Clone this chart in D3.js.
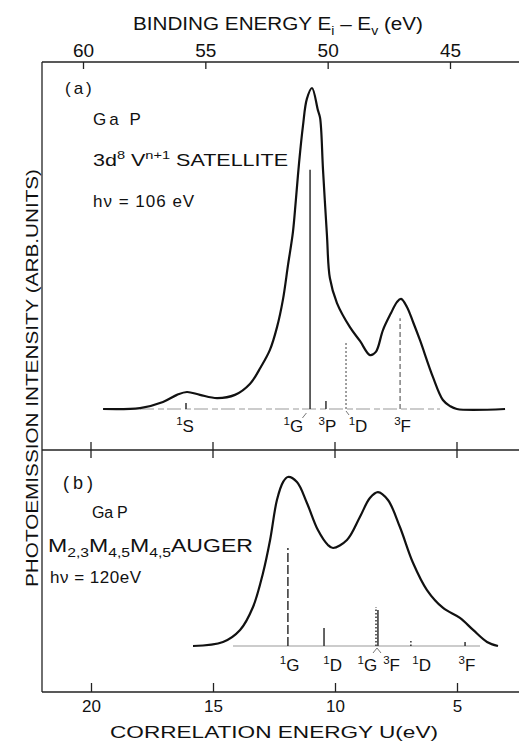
<!DOCTYPE html>
<html>
<head>
<meta charset="utf-8">
<script src="https://cdn.jsdelivr.net/npm/d3@7"></script>
<style>
  body { margin: 0; background: #fff; }
  text { font-family: "Liberation Sans", "DejaVu Sans", sans-serif; fill: #111; }
</style>
</head>
<body>
<div class="chart"></div>
<script>
// Page size
var svgWidth = 519;
var svgHeight = 742;

// (a) 3d8 V(n+1) satellite, binding energy (eV) vs intensity (arb.)
var satBE  = [59.18, 57.67, 56.73, 56.16, 55.75, 55.22, 54.52, 53.79, 53.18, 52.73, 52.36, 52.07,
              51.83, 51.62, 51.42, 51.30, 51.17, 51.01, 50.85, 50.64, 50.40, 50.31,
              50.19, 50.03, 49.91, 49.62, 49.09, 48.68, 48.27, 48.03, 47.74, 47.41, 47.17, 47.00,
              46.76, 46.51, 46.23, 45.70, 45.29, 45.00, 44.72, 42.75];
var satInt = [0, 0.3, 2.2, 4.4, 5.3, 4.4, 3.4, 4.4, 7.8, 13.1, 18.4, 25.5,
              34.0, 44.9, 55.1, 65.1, 76.6, 88.2, 96.6, 100, 93.1, 90.7,
              74.5, 54.2, 40.8, 33.0, 25.5, 21.2, 16.8, 17.8, 24.6, 29.9, 33.3, 34.3,
              31.8, 27.1, 21.5, 10.0, 2.8, 0.9, 0, 0];

// (a) multiplet lines
var satLineBE  = [55.79, 50.72, 50.07, 49.25, 47.04];
var satLineInt = [1.9, 74.5, 2.5, 20.9, 28.3];
var satLineDash = ["none", "none", "none", "2,2", "5,3"];
var satMult  = ["1", "1", "3", "1", "3"];
var satTerm  = ["S", "G", "P", "D", "F"];
var satLabelBE = [55.83, 51.40, 50.01, 48.76, 46.94];

// (b) M2,3M4,5M4,5 Auger, correlation energy U (eV) vs intensity (arb.)
var augU   = [15.82, 14.59, 13.89, 13.36, 12.95, 12.66, 12.38, 12.13, 11.93, 11.56, 11.15, 10.70,
              10.29, 10.08, 9.51, 8.98, 8.57, 8.24, 7.83, 7.34, 6.80, 6.23, 5.57, 4.88, 4.34, 3.77, 3.32];
var augInt = [0, 2.4, 9.5, 23.1, 43.2, 62.7, 86.4, 97.0, 100, 97.0, 84.6, 68.6,
              59.8, 58.0, 62.7, 76.3, 87.6, 91.1, 86.4, 70.4, 49.1, 33.1, 22.5, 16.6, 9.5, 2.4, 0];

// (b) multiplet lines
var augLineU   = [11.93, 10.45, 8.32, 8.24, 6.89, 4.67];
var augLineInt = [58.0, 10.7, 23.1, 21.3, 3.6, 2.4];
var augLineDash = ["9,3", "none", "1.5,2", "none", "1.5,2", "none"];
var augMult  = ["1", "1", "1", "3", "1", "3"];
var augTerm  = ["G", "D", "G", "F", "D", "F"];
var augLabelU = [11.86, 10.10, 8.67, 7.68, 6.45, 4.59];

// Axis ticks
var beTicks = [60, 55, 50, 45];
var uTicks  = [20, 15, 10, 5];

var svg = d3.select(".chart").append("svg")
  .attr("width", svgWidth)
  .attr("height", svgHeight);

// scales
var xBE = d3.scaleLinear().domain([60, 45]).range([83, 450]);
var xU  = d3.scaleLinear().domain([20, 5]).range([91, 457]);
var yA  = d3.scaleLinear().domain([0, 100]).range([409, 88]);
var yB  = d3.scaleLinear().domain([0, 100]).range([646, 477]);

var frameLeft = 42, frameTop = 62, frameMid = 450, frameBottom = 692;

// helper: text with super/subscripts, parts = [[string, shift]]
function richText(g, x, y, parts, size, len, anchor) {
  var t = g.append("text").attr("x", x).attr("y", y)
    .attr("font-size", size)
    .attr("text-anchor", anchor || "start");
  var cur = 0;
  parts.forEach(function(p) {
    var off = p[1] === 1 ? -size * 0.42 : (p[1] === -1 ? size * 0.3 : 0);
    t.append("tspan")
      .attr("dy", off - cur)
      .attr("font-size", p[1] ? size * 0.68 : size)
      .text(p[0]);
    cur = off;
  });
  if (len) t.attr("textLength", len).attr("lengthAdjust", "spacingAndGlyphs");
  return t;
}

// plain text with letter spacing
function plainText(g, x, y, str, size, spacing) {
  return g.append("text").attr("x", x).attr("y", y)
    .attr("font-size", size)
    .style("letter-spacing", (spacing || 0) + "px")
    .text(str);
}

// frame lines
var frame = svg.append("g").attr("stroke", "#222").attr("stroke-width", 1.3);
frame.append("line").attr("x1", frameLeft).attr("x2", frameLeft).attr("y1", frameTop).attr("y2", frameBottom);
[frameTop, frameMid, frameBottom].forEach(function(yy) {
  frame.append("line").attr("x1", frameLeft).attr("x2", svgWidth).attr("y1", yy).attr("y2", yy);
});

// top axis (binding energy), ticks pointing in
var topAxis = d3.axisTop(xBE).tickValues(beTicks).tickSizeInner(-7).tickSizeOuter(0).tickPadding(5);
var gTop = svg.append("g").attr("transform", "translate(0," + frameTop + ")").call(topAxis);
gTop.select(".domain").remove();
gTop.selectAll("line").attr("stroke", "#222").attr("stroke-width", 1.3);
gTop.selectAll("text").attr("font-size", 19).attr("font-family", null).attr("fill", "#111");

// bottom axis (correlation energy)
var bottomAxis = d3.axisBottom(xU).tickValues(uTicks).tickSizeInner(-9).tickSizeOuter(0).tickPadding(8);
var gBot = svg.append("g").attr("transform", "translate(0," + frameBottom + ")").call(bottomAxis);
gBot.select(".domain").remove();
gBot.selectAll("line").attr("stroke", "#222").attr("stroke-width", 1.3);
gBot.selectAll("text").attr("font-size", 17).attr("font-family", null).attr("fill", "#111");

// middle divider ticks crossing the line
svg.append("g").selectAll("line").data(uTicks).enter().append("line")
  .attr("x1", function(d) { return xU(d); })
  .attr("x2", function(d) { return xU(d); })
  .attr("y1", frameMid - 8).attr("y2", frameMid + 8)
  .attr("stroke", "#222").attr("stroke-width", 1.3);

// axis titles
richText(svg, 133, 30, [["BINDING ENERGY  E", 0], ["i", -1], [" \u2013 E", 0], ["v", -1], [" (eV)", 0]], 18, 290);
svg.append("text").attr("x", 110).attr("y", 738).attr("font-size", 17)
  .attr("textLength", 328).attr("lengthAdjust", "spacingAndGlyphs")
  .text("CORRELATION ENERGY U(eV)");
svg.append("text").attr("transform", "translate(38,378) rotate(-90)")
  .attr("text-anchor", "middle").attr("font-size", 17)
  .attr("textLength", 418).attr("lengthAdjust", "spacingAndGlyphs")
  .text("PHOTOEMISSION INTENSITY (ARB.UNITS)");

var lineGen = d3.line().curve(d3.curveCatmullRom.alpha(0.5));

// ---- panel (a)
var pa = svg.append("g");
pa.append("line").attr("x1", 140).attr("x2", 440).attr("y1", yA(0)).attr("y2", yA(0))
  .attr("stroke", "#999").attr("stroke-width", 1).attr("stroke-dasharray", "14,4,6,3");
pa.selectAll(".stick").data(satLineBE).enter().append("line")
  .attr("x1", function(d) { return xBE(d); })
  .attr("x2", function(d) { return xBE(d); })
  .attr("y1", yA(0))
  .attr("y2", function(d, i) { return yA(satLineInt[i]); })
  .attr("stroke", function(d, i) { return satLineDash[i] === "none" ? "#222" : "#777"; })
  .attr("stroke-width", 1.4)
  .attr("stroke-dasharray", function(d, i) { return satLineDash[i]; });
pa.append("path")
  .attr("d", lineGen(satBE.map(function(d, i) { return [xBE(d), yA(satInt[i])]; })))
  .attr("fill", "none").attr("stroke", "#111").attr("stroke-width", 2.2);
satLabelBE.forEach(function(d, i) {
  richText(pa, xBE(d), 432, [[satMult[i], 1], [satTerm[i], 0]], 17, null, "middle");
});
// small leaders from labels to lines
pa.append("line").attr("x1", xBE(satLabelBE[1]) + 9).attr("y1", 418)
  .attr("x2", xBE(satLabelBE[1]) + 13).attr("y2", 413).attr("stroke", "#555").attr("stroke-width", 0.8);
pa.append("line").attr("x1", xBE(satLineBE[3])).attr("y1", 411)
  .attr("x2", xBE(satLineBE[3]) + 3).attr("y2", 415).attr("stroke", "#555").attr("stroke-width", 0.8);

plainText(pa, 65, 94, "(a)", 17, 3);
plainText(pa, 93, 125, "Ga P", 17, 3);
richText(pa, 93, 166, [["3d", 0], ["8", 1], [" V", 0], ["n+1", 1], [" SATELLITE", 0]], 17, 195);
plainText(pa, 93, 207, "h\u03BD = 106 eV", 17, 1);

// ---- panel (b)
var pb = svg.append("g");
pb.append("line").attr("x1", 233).attr("x2", 480).attr("y1", yB(0)).attr("y2", yB(0))
  .attr("stroke", "#999").attr("stroke-width", 1);
pb.selectAll(".stick").data(augLineU).enter().append("line")
  .attr("x1", function(d) { return xU(d); })
  .attr("x2", function(d) { return xU(d); })
  .attr("y1", yB(0))
  .attr("y2", function(d, i) { return yB(augLineInt[i]); })
  .attr("stroke", "#222")
  .attr("stroke-width", 1.4)
  .attr("stroke-dasharray", function(d, i) { return augLineDash[i]; });
pb.append("path")
  .attr("d", lineGen(augU.map(function(d, i) { return [xU(d), yB(augInt[i])]; })))
  .attr("fill", "none").attr("stroke", "#111").attr("stroke-width", 2.2);
augLabelU.forEach(function(d, i) {
  richText(pb, xU(d), 671, [[augMult[i], 1], [augTerm[i], 0]], 17, null, "middle");
});
pb.append("path")
  .attr("d", "M" + (xU(augLineU[2]) - 3) + "," + 653 + "L" + (xU(augLineU[2]) + 1) + "," + 648 + "L" + (xU(augLineU[2]) + 5) + "," + 653)
  .attr("fill", "none").attr("stroke", "#555").attr("stroke-width", 0.8);

plainText(pb, 63, 489, "(b)", 18, 4);
plainText(pb, 92, 518, "Ga P", 16, -0.3);
richText(pb, 48, 552, [["M", 0], ["2,3", -1], ["M", 0], ["4,5", -1], ["M", 0], ["4,5", -1], ["AUGER", 0]], 18, 205);
plainText(pb, 50, 583, "h\u03BD = 120eV", 17, 0.5);
</script>
</body>
</html>
